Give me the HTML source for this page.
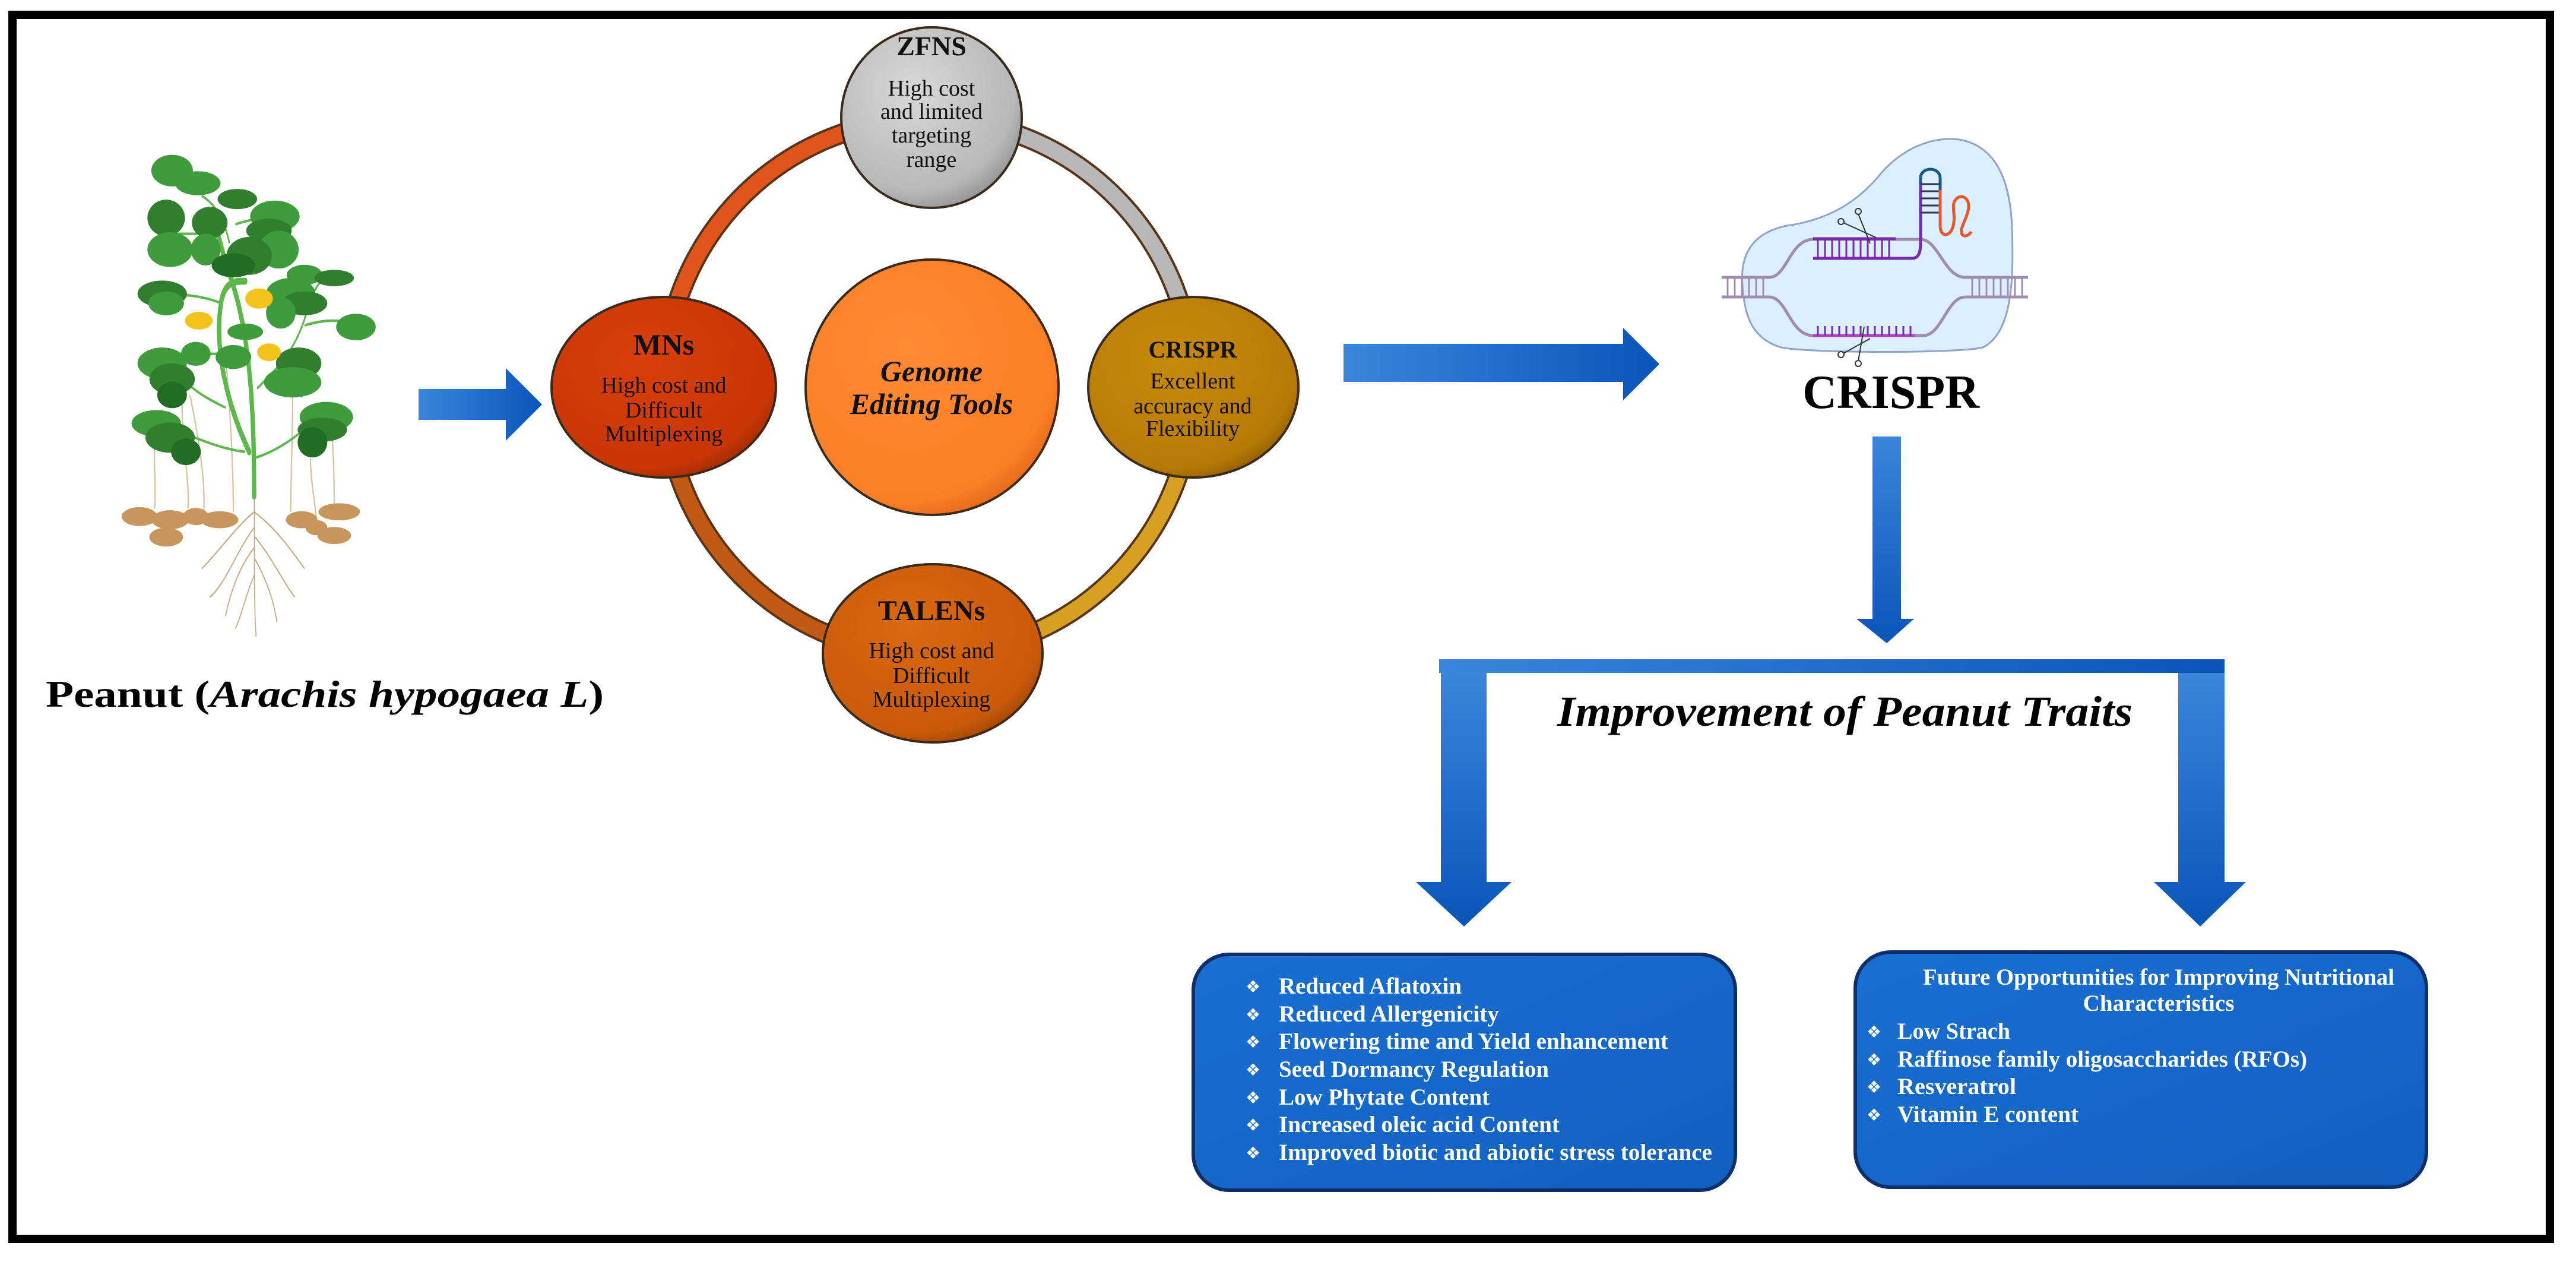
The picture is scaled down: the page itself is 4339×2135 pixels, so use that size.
<!DOCTYPE html>
<html><head><meta charset="utf-8"><style>
html,body{margin:0;padding:0;background:#fff;}
svg{display:block;}
text{font-family:"Liberation Serif","DejaVu Serif",serif;}
</style></head><body>
<svg width="4339" height="2135" viewBox="0 0 4339 2135" xmlns="http://www.w3.org/2000/svg">
<defs>
<linearGradient id="blueH" x1="0" y1="0" x2="1" y2="0"><stop offset="0" stop-color="#3a86dc"/><stop offset="1" stop-color="#0b55b8"/></linearGradient>
<linearGradient id="blueV" x1="0" y1="0" x2="0" y2="1"><stop offset="0" stop-color="#3a86dc"/><stop offset="1" stop-color="#0b55b8"/></linearGradient>
<linearGradient id="boxg" x1="0" y1="0" x2="1" y2="1"><stop offset="0" stop-color="#1a6fd0"/><stop offset="1" stop-color="#1260c0"/></linearGradient>
<radialGradient id="gZ" cx="0.4" cy="0.35" r="0.7"><stop offset="0" stop-color="#d8d8d8"/><stop offset="0.8" stop-color="#b8b8b8"/><stop offset="1" stop-color="#909090"/></radialGradient>
<radialGradient id="gM" cx="0.4" cy="0.35" r="0.7"><stop offset="0" stop-color="#d8400c"/><stop offset="0.85" stop-color="#c83606"/><stop offset="1" stop-color="#a02a04"/></radialGradient>
<radialGradient id="gC" cx="0.4" cy="0.35" r="0.7"><stop offset="0" stop-color="#c88a0a"/><stop offset="0.85" stop-color="#b87a06"/><stop offset="1" stop-color="#8e5c02"/></radialGradient>
<radialGradient id="gT" cx="0.4" cy="0.35" r="0.7"><stop offset="0" stop-color="#d86a12"/><stop offset="0.85" stop-color="#c85a0a"/><stop offset="1" stop-color="#a04504"/></radialGradient>
<radialGradient id="gG" cx="0.4" cy="0.35" r="0.7"><stop offset="0" stop-color="#ff8a33"/><stop offset="0.85" stop-color="#fb7f26"/><stop offset="1" stop-color="#e0661a"/></radialGradient>
</defs>

<rect x="21" y="25" width="4274" height="2061" fill="none" stroke="#000" stroke-width="14"/>

<!-- plant -->
<g transform="translate(180,250) scale(0.333,0.532)">
 <g stroke="#d9c4a4" stroke-width="7" fill="none">
  <path d="M240,940 C240,1050 250,1100 240,1140"/><path d="M380,800 C380,950 420,1050 410,1140"/>
  <path d="M420,780 C460,900 500,1050 490,1150"/><path d="M600,650 C620,800 640,1000 640,1150"/>
  <path d="M940,780 C940,900 930,1050 930,1150"/><path d="M1030,980 C1030,1050 1050,1100 1060,1180"/>
  <path d="M1140,920 C1150,1000 1150,1100 1150,1140"/>
 </g>
 <g stroke="#c8a880" stroke-width="5" fill="none">
  <path d="M745,1100 C750,1250 740,1400 755,1545"/>
  <path d="M745,1150 C650,1200 560,1280 480,1330"/><path d="M745,1200 C650,1280 600,1380 520,1420"/>
  <path d="M750,1260 C660,1330 620,1420 600,1480"/><path d="M745,1150 C850,1200 920,1260 1000,1330"/>
  <path d="M750,1230 C840,1300 900,1380 950,1420"/><path d="M750,1300 C820,1380 850,1450 860,1500"/>
  <path d="M745,1350 C700,1420 680,1480 650,1520"/>
 </g>
 <g fill="#c8955a">
  <ellipse cx="165" cy="1165" rx="90" ry="30"/><ellipse cx="320" cy="1175" rx="95" ry="30"/>
  <ellipse cx="300" cy="1230" rx="85" ry="30"/><ellipse cx="450" cy="1165" rx="65" ry="27"/>
  <ellipse cx="570" cy="1175" rx="95" ry="27"/><ellipse cx="985" cy="1175" rx="80" ry="27"/>
  <ellipse cx="1175" cy="1150" rx="105" ry="27"/><ellipse cx="1150" cy="1225" rx="85" ry="27"/>
  <ellipse cx="1060" cy="1200" rx="55" ry="24"/>
 </g>
 <g stroke="#5cb84a" stroke-width="22" fill="none" stroke-linecap="round">
  <path d="M745,1100 C745,800 720,560 610,380 C580,320 560,260 550,250"/>
  <path d="M720,960 C600,800 540,620 580,480 C600,420 650,420 700,420"/>
 </g>
 <g stroke="#5cb84a" stroke-width="8" fill="none">
  <path d="M745,980 C850,960 950,920 1050,860"/><path d="M700,960 C550,950 400,900 300,880"/>
  <path d="M600,820 C500,790 420,760 380,720"/><path d="M760,760 C850,700 950,650 1010,520 C1020,480 1050,450 1080,420"/>
  <path d="M1000,560 C1100,540 1200,540 1260,560"/><path d="M580,490 C500,470 400,460 330,465"/>
  <path d="M590,650 C550,650 500,650 450,650"/><path d="M620,300 C600,240 560,180 480,150"/>
  <path d="M650,240 C700,230 760,220 850,215"/><path d="M560,270 C500,270 430,270 360,270"/>
 </g>
 <g fill="#3f9c3c">
  <ellipse cx="330" cy="70" rx="105" ry="50"/><ellipse cx="460" cy="110" rx="115" ry="38"/>
  <ellipse cx="300" cy="220" rx="95" ry="58" fill="#2f7f2f"/><ellipse cx="520" cy="235" rx="90" ry="50" fill="#2f7f2f"/>
  <ellipse cx="320" cy="320" rx="115" ry="55"/><ellipse cx="500" cy="320" rx="75" ry="50"/>
  <ellipse cx="660" cy="160" rx="100" ry="32" fill="#2f7f2f"/><ellipse cx="850" cy="215" rx="125" ry="50"/>
  <ellipse cx="820" cy="260" rx="115" ry="38" fill="#2f7f2f"/><ellipse cx="870" cy="320" rx="100" ry="60"/>
  <ellipse cx="720" cy="340" rx="115" ry="60" fill="#2f7f2f"/><ellipse cx="640" cy="370" rx="110" ry="38" fill="#1f6e24"/>
  <ellipse cx="280" cy="460" rx="125" ry="42" fill="#2f7f2f"/><ellipse cx="300" cy="490" rx="90" ry="38"/>
  <ellipse cx="1000" cy="400" rx="90" ry="32"/><ellipse cx="1150" cy="410" rx="100" ry="26" fill="#2f7f2f"/>
  <ellipse cx="930" cy="460" rx="125" ry="50"/><ellipse cx="1000" cy="490" rx="115" ry="38" fill="#2f7f2f"/>
  <ellipse cx="880" cy="520" rx="75" ry="50"/><ellipse cx="1260" cy="565" rx="100" ry="42"/>
  <ellipse cx="450" cy="650" rx="75" ry="38"/><ellipse cx="280" cy="680" rx="125" ry="50"/>
  <ellipse cx="330" cy="730" rx="115" ry="50" fill="#2f7f2f"/><ellipse cx="330" cy="780" rx="75" ry="42" fill="#1f6e24"/>
  <ellipse cx="700" cy="580" rx="90" ry="26"/><ellipse cx="640" cy="660" rx="90" ry="38"/>
  <ellipse cx="970" cy="680" rx="115" ry="50" fill="#2f7f2f"/><ellipse cx="940" cy="740" rx="145" ry="48"/>
  <ellipse cx="250" cy="870" rx="125" ry="42"/><ellipse cx="320" cy="915" rx="125" ry="48" fill="#2f7f2f"/>
  <ellipse cx="400" cy="960" rx="75" ry="42" fill="#1f6e24"/><ellipse cx="1110" cy="850" rx="135" ry="48"/>
  <ellipse cx="1090" cy="890" rx="125" ry="38" fill="#2f7f2f"/><ellipse cx="1040" cy="930" rx="75" ry="48" fill="#1f6e24"/>
 </g>
 <g fill="#f5c21a">
  <ellipse cx="465" cy="545" rx="70" ry="28"/><ellipse cx="770" cy="475" rx="70" ry="32"/><ellipse cx="820" cy="645" rx="60" ry="28"/>
 </g>
</g>
<text x="77" y="1190" font-size="64" font-weight="bold" textLength="940" lengthAdjust="spacingAndGlyphs">Peanut (<tspan font-style="italic">Arachis hypogaea L</tspan>)</text>

<polygon points="705,655 852,655 852,620 913,681 852,742 852,707 705,707" fill="url(#blueH)"/>

<g fill="none" stroke-width="34" stroke="#5a3418">
 <ellipse cx="1564" cy="651" rx="446" ry="451"/>
</g>
<g fill="none" stroke-width="26">
 <path d="M1118,651 A446,451 0 0 1 1564,200" stroke="#e0561a"/>
 <path d="M1564,200 A446,451 0 0 1 2010,651" stroke="#b8b8b8"/>
 <path d="M2010,651 A446,451 0 0 1 1564,1102" stroke="#d6a020"/>
 <path d="M1564,1102 A446,451 0 0 1 1118,651" stroke="#c05a14"/>
</g>

<g stroke="#3a2a1a" stroke-width="4">
 <ellipse cx="1569" cy="198" rx="152" ry="152" fill="url(#gZ)"/>
 <ellipse cx="1118" cy="652" rx="189" ry="152" fill="url(#gM)"/>
 <ellipse cx="2010" cy="652" rx="177" ry="152" fill="url(#gC)"/>
 <ellipse cx="1571" cy="1100" rx="185" ry="150" fill="url(#gT)"/>
 <ellipse cx="1570" cy="652" rx="213" ry="215" fill="url(#gG)"/>
</g>
<g text-anchor="middle" fill="#111">
 <text x="1569" y="93" font-size="46" font-weight="bold">ZFNS</text>
 <text x="1569" y="161" font-size="38">High cost</text>
 <text x="1569" y="200" font-size="38">and limited</text>
 <text x="1569" y="240" font-size="38">targeting</text>
 <text x="1569" y="281" font-size="38">range</text>
 <text x="1118" y="597" font-size="50" font-weight="bold">MNs</text>
 <text x="1118" y="661" font-size="38">High cost and</text>
 <text x="1118" y="703" font-size="38">Difficult</text>
 <text x="1118" y="743" font-size="38">Multiplexing</text>
 <text x="2009" y="602" font-size="40" font-weight="bold">CRISPR</text>
 <text x="2009" y="654" font-size="38">Excellent</text>
 <text x="2009" y="696" font-size="38">accuracy and</text>
 <text x="2009" y="734" font-size="38">Flexibility</text>
 <text x="1569" y="1044" font-size="48" font-weight="bold">TALENs</text>
 <text x="1569" y="1108" font-size="38">High cost and</text>
 <text x="1569" y="1150" font-size="38">Difficult</text>
 <text x="1569" y="1190" font-size="38">Multiplexing</text>
 <text x="1569" y="642" font-size="50" font-weight="bold" font-style="italic">Genome</text>
 <text x="1569" y="697" font-size="50" font-weight="bold" font-style="italic">Editing Tools</text>
</g>

<polygon points="2263,579 2734,579 2734,552 2795,613 2734,674 2734,643 2263,643" fill="url(#blueH)"/>

<path d="M2935,480 C2930,420 2960,390 3010,380 C3080,370 3130,340 3170,290 C3210,245 3260,230 3300,235 C3360,245 3385,300 3389,380 C3392,470 3390,560 3340,585 C3300,595 3050,595 3000,585 C2950,570 2938,530 2935,480 Z" fill="#dcefff" stroke="#8fa4cc" stroke-width="3"/>
<g stroke="#a08cb0" stroke-width="5" fill="none">
 <path d="M2900,467 L2980,467 C3010,467 3015,403 3054,403 L3235,403 C3265,403 3275,467 3310,467 L3416,467"/>
 <path d="M2900,500 L2980,500 C3010,500 3015,565 3054,565 L3240,565 C3270,565 3280,500 3310,500 L3416,500"/>
 <path d="M2910,467 v33 M2922,467 v33 M2934,467 v33 M2946,467 v33 M2958,467 v33 M2970,467 v33 M3322,467 v33 M3334,467 v33 M3346,467 v33 M3358,467 v33 M3370,467 v33 M3382,467 v33 M3394,467 v33 M3406,467 v33" stroke-width="3"/>
</g>
<g stroke="#7a2ab0" stroke-width="5" fill="none">
 <path d="M3054,402 L3193,402"/><path d="M3054,435 L3220,435 C3235,435 3235,420 3235,400 L3235,300"/>
 <path d="M3062,402 v33 M3074,402 v33 M3086,402 v33 M3098,402 v33 M3110,402 v33 M3122,402 v33 M3134,402 v33 M3146,402 v33 M3158,402 v33 M3170,402 v33 M3182,402 v33" stroke-width="3"/>
 <path d="M3054,565 L3225,565" stroke="#b040c0"/>
 <path d="M3062,565 v-16 M3074,565 v-16 M3086,565 v-16 M3098,565 v-16 M3110,565 v-16 M3122,565 v-16 M3134,565 v-16 M3146,565 v-16 M3158,565 v-16 M3170,565 v-16 M3182,565 v-16 M3194,565 v-16 M3206,565 v-16 M3218,565 v-16" stroke-width="3"/>
</g>
<path d="M3235,310 L3235,300 C3235,280 3268,280 3268,300 L3268,365" stroke="#1a5a8a" stroke-width="5" fill="none"/>
<path d="M3235,310 h33 M3235,322 h33 M3235,334 h33 M3235,346 h33 M3235,358 h33" stroke="#335" stroke-width="3"/>
<path d="M3268,320 L3268,380 C3268,400 3285,400 3290,380 C3295,360 3285,345 3295,335 C3305,325 3320,335 3315,355 C3310,375 3300,385 3305,395 C3310,400 3318,395 3320,390" stroke="#e8582a" stroke-width="5" fill="none"/>
<g stroke="#333" stroke-width="2" fill="none">
 <path d="M3130,360 L3150,410 M3105,375 L3160,400"/><circle cx="3130" cy="356" r="5"/><circle cx="3101" cy="373" r="5"/>
 <path d="M3140,550 L3130,608 M3105,595 L3150,570"/><circle cx="3130" cy="612" r="5"/><circle cx="3101" cy="597" r="5"/>
</g>
<text x="3185" y="687" font-size="80" font-weight="bold" text-anchor="middle">CRISPR</text>

<polygon points="3154,735 3202,735 3202,1042 3224,1042 3178,1083 3127,1042 3154,1042" fill="url(#blueV)"/>
<rect x="2424" y="1110" width="1323" height="23" fill="url(#blueH)"/>
<polygon points="2427,1133 2504,1133 2504,1485 2546,1485 2466,1560 2385,1485 2427,1485" fill="url(#blueV)"/>
<polygon points="3669,1133 3747,1133 3747,1485 3783,1485 3706,1560 3628,1485 3669,1485" fill="url(#blueV)"/>
<text x="2623" y="1222" font-size="72" font-weight="bold" font-style="italic" textLength="969" lengthAdjust="spacingAndGlyphs">Improvement of Peanut Traits</text>

<rect x="2010" y="1607" width="913" height="397" rx="60" fill="url(#boxg)" stroke="#0d2f6b" stroke-width="6"/>
<rect x="3125" y="1603" width="962" height="396" rx="60" fill="url(#boxg)" stroke="#0d2f6b" stroke-width="6"/>
<g fill="#fff" font-size="39" font-weight="bold">
 <g font-family="'DejaVu Sans',sans-serif" font-size="28" font-weight="normal">
  <text x="2098" y="1671">❖</text><text x="2098" y="1718">❖</text><text x="2098" y="1764">❖</text><text x="2098" y="1811">❖</text><text x="2098" y="1858">❖</text><text x="2098" y="1904">❖</text><text x="2098" y="1951">❖</text>
  <text x="3144" y="1747">❖</text><text x="3144" y="1794">❖</text><text x="3144" y="1840">❖</text><text x="3144" y="1887">❖</text>
 </g>
 <text x="2154" y="1673" textLength="308" lengthAdjust="spacingAndGlyphs">Reduced Aflatoxin</text>
 <text x="2154" y="1720" textLength="371" lengthAdjust="spacingAndGlyphs">Reduced Allergenicity</text>
 <text x="2154" y="1766" textLength="656" lengthAdjust="spacingAndGlyphs">Flowering time and Yield enhancement</text>
 <text x="2154" y="1813" textLength="455" lengthAdjust="spacingAndGlyphs">Seed Dormancy Regulation</text>
 <text x="2154" y="1860" textLength="355" lengthAdjust="spacingAndGlyphs">Low Phytate Content</text>
 <text x="2154" y="1906" textLength="473" lengthAdjust="spacingAndGlyphs">Increased oleic acid Content</text>
 <text x="2154" y="1953" textLength="730" lengthAdjust="spacingAndGlyphs">Improved biotic and abiotic stress tolerance</text>
 <text x="3636" y="1658" text-anchor="middle" textLength="794" lengthAdjust="spacingAndGlyphs">Future Opportunities for Improving Nutritional</text>
 <text x="3636" y="1702" text-anchor="middle" textLength="255" lengthAdjust="spacingAndGlyphs">Characteristics</text>
 <text x="3196" y="1749" textLength="190" lengthAdjust="spacingAndGlyphs">Low Strach</text>
 <text x="3196" y="1796" textLength="690" lengthAdjust="spacingAndGlyphs">Raffinose family oligosaccharides (RFOs)</text>
 <text x="3196" y="1842" textLength="200" lengthAdjust="spacingAndGlyphs">Resveratrol</text>
 <text x="3196" y="1889" textLength="305" lengthAdjust="spacingAndGlyphs">Vitamin E content</text>
</g>
</svg>
</body></html>
